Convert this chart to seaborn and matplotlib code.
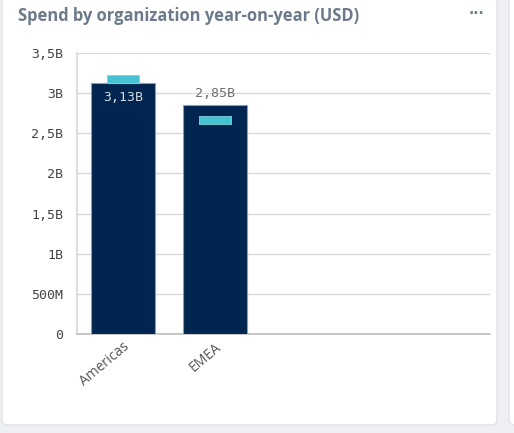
import numpy as np
import pandas as pd
import seaborn as sns
import matplotlib.pyplot as plt
from matplotlib.patches import FancyBboxPatch
from matplotlib.ticker import FuncFormatter

regions = ['Americas', 'EMEA']
spend = [3.13e9, 2.85e9]
prev_year = [3.18e9, 2.67e9]
value_labels = ['3,13B', '2,85B']

sns.set_theme(style='white')
plt.rcParams['font.family'] = ['DejaVu Sans']

fig = plt.figure(figsize=(5.14, 4.33), dpi=100)
fig.patch.set_facecolor('#eef0f3')

# the dashboard cards
for x0, w in [(2, 495), (509, 20)]:
    fig.patches.append(FancyBboxPatch((x0 / 514, 8 / 433), w / 514, 440 / 433,
                                      boxstyle='round,pad=0,rounding_size=0.012',
                                      transform=fig.transFigure, facecolor='white',
                                      edgecolor='#dfe2e7', linewidth=1, zorder=-5))

fig.text(18 / 514, 1 - 16 / 433, 'Spend by organization year-on-year (USD)',
         fontsize=11.9, fontweight='bold', color='#6c7a8c', va='center',
         family='Open Sans')
fig.text(476 / 514, 1 - 14 / 433, '···', fontsize=10, fontweight='bold',
         color='#6c7a8c', ha='center', va='center')

ax = fig.add_axes([77 / 514, 1 - 334 / 433, 413 / 514, 281 / 433])
ax.set_zorder(2)
ax.set_facecolor('white')

df = pd.DataFrame({'Region': regions, 'Spend': spend, 'Prev': prev_year})

sns.barplot(data=df, x='Region', y='Spend', color='#00264f', width=0.7,
            edgecolor='#8a9cb3', linewidth=0.8, saturation=1, ax=ax, zorder=3)

rect = [(-2, -0.5), (2, -0.5), (2, 0.5), (-2, 0.5), (-2, -0.5)]
sns.scatterplot(data=df, x='Region', y='Prev', marker=rect, s=23 ** 2,
                color='#45c3d3', edgecolor='#7fd6e0', linewidth=0.6,
                ax=ax, zorder=4, legend=False)

for i, (v, lab) in enumerate(zip(spend, value_labels)):
    if prev_year[i] > v:
        ax.annotate(lab, (i, v), xytext=(0, -6), textcoords='offset points',
                    ha='center', va='top', fontsize=9.5, color='#d5dbe4',
                    family='DejaVu Sans Mono', zorder=5)
    else:
        ax.annotate(lab, (i, v), xytext=(0, 4), textcoords='offset points',
                    ha='center', va='bottom', fontsize=9.5, color='#6f6f6f',
                    family='DejaVu Sans Mono', zorder=5)

ax.set_xlim(-0.5, 3.99)
ax.set_ylim(0, 3.5e9)
ax.set_yticks(np.arange(0, 3.6e9, 0.5e9))


def fmt(v, pos):
    if v == 0:
        return '0'
    if v >= 1e9:
        return ('%g' % (v / 1e9)).replace('.', ',') + 'B'
    return ('%g' % (v / 1e6)).replace('.', ',') + 'M'


ax.yaxis.set_major_formatter(FuncFormatter(fmt))
ax.grid(axis='y', color='#d9d9d9', linewidth=1, zorder=0)
ax.grid(axis='x', visible=False)
for s in ['top', 'right']:
    ax.spines[s].set_visible(False)
ax.spines['left'].set_color('#d9d9d9')
ax.spines['bottom'].set_color('#bdbdbd')
ax.spines['bottom'].set_linewidth(1.2)
ax.tick_params(axis='y', length=7, color='#d9d9d9', width=1, pad=3,
               labelsize=9.5, labelcolor='#444444')
ax.tick_params(axis='x', length=0, pad=4, labelsize=10, labelcolor='#555555')
for t in ax.get_yticklabels():
    t.set_family('DejaVu Sans Mono')
plt.setp(ax.get_xticklabels(), rotation=40, ha='right', rotation_mode='anchor',
         family='Open Sans')
ax.set_xlabel('')
ax.set_ylabel('')

fig.savefig('out.png', dpi=100, facecolor=fig.get_facecolor())
